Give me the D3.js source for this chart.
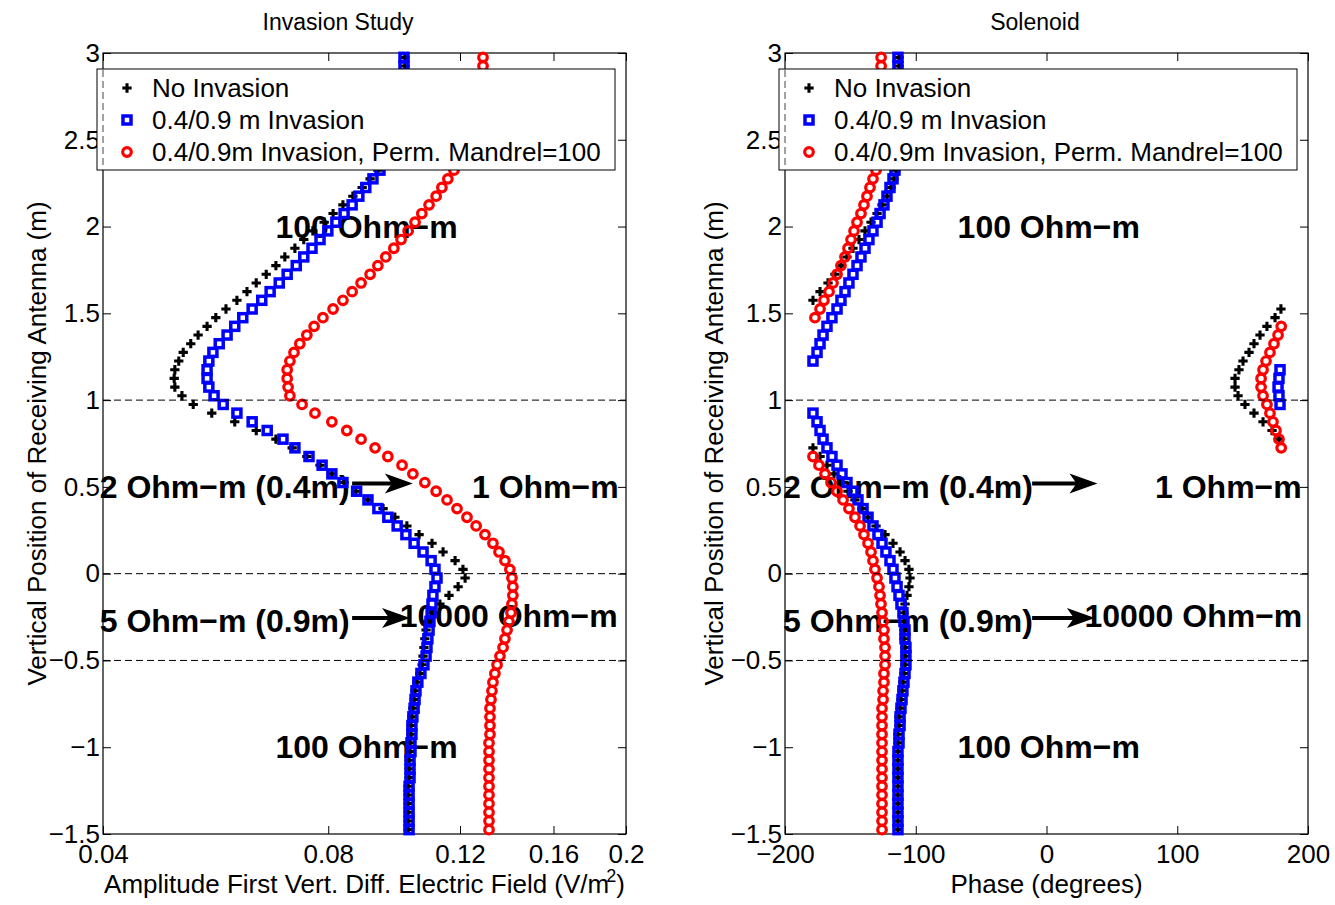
<!DOCTYPE html>
<html>
<head>
<meta charset="utf-8">
<script src="https://cdn.jsdelivr.net/npm/d3@7"></script>
<style>
  body { margin: 0; background: #fff; }
</style>
</head>
<body>
<svg id="chart" width="1335" height="905"></svg>
<script>
// receiver depth (m), same sampling for every curve
var depth = [
  -1.475,-1.425,-1.375,-1.325,-1.275,-1.225,-1.175,-1.125,-1.075,-1.025,
  -0.975,-0.925,-0.875,-0.825,-0.775,-0.725,-0.675,-0.625,-0.575,-0.525,
  -0.475,-0.425,-0.375,-0.325,-0.275,-0.225,-0.175,-0.125,-0.075,-0.025,
  0.025,0.075,0.125,0.175,0.225,0.275,0.325,0.375,0.425,0.475,
  0.525,0.575,0.625,0.675,0.725,0.775,0.825,0.875,0.925,0.975,
  1.025,1.075,1.125,1.175,1.225,1.275,1.325,1.375,1.425,1.475,
  1.525,1.575,1.625,1.675,1.725,1.775,1.825,1.875,1.925,1.975,
  2.025,2.075,2.125,2.175,2.225,2.275,2.325,2.375,2.425,2.475,
  2.525,2.575,2.625,2.675,2.725,2.775,2.825,2.875,2.925,2.975
];

// amplitude (V/m^2)
var ampNoInv = [
  0.1023,0.1023,0.1023,0.1023,0.1023,0.1023,0.1026,0.1026,0.1026,0.1029,
  0.1029,0.1032,0.1032,0.1035,0.1038,0.1042,0.1045,0.1051,0.1061,0.1068,
  0.1071,0.1074,0.1077,0.1081,0.1087,0.1104,0.1128,0.1160,0.1193,0.1219,
  0.1211,0.1182,0.1139,0.1101,0.1058,0.1019,0.0982,0.0947,0.0904,0.0871,
  0.0840,0.0809,0.0780,0.0749,0.0716,0.0681,0.0641,0.0600,0.0559,0.0528,
  0.0510,0.0499,0.0498,0.0499,0.0505,0.0512,0.0524,0.0536,0.0551,0.0566,
  0.0584,0.0604,0.0623,0.0641,0.0661,0.0681,0.0700,0.0722,0.0742,0.0763,
  0.0790,0.0812,0.0837,0.0863,0.0888,0.0910,0.0932,0.0953,0.0967,0.0982,
  0.0992,0.1001,0.1007,0.1010,0.1013,0.1013,0.1013,0.1013,0.1013,0.1013
];
var ampInv = [
  0.1026,0.1026,0.1026,0.1026,0.1026,0.1026,0.1029,0.1029,0.1029,0.1032,
  0.1032,0.1035,0.1035,0.1038,0.1042,0.1045,0.1048,0.1054,0.1064,0.1074,
  0.1081,0.1084,0.1087,0.1091,0.1094,0.1098,0.1101,0.1104,0.1111,0.1118,
  0.1111,0.1098,0.1071,0.1042,0.1016,0.0989,0.0961,0.0932,0.0904,0.0873,
  0.0837,0.0809,0.0785,0.0754,0.0722,0.0696,0.0663,0.0633,0.0604,0.0579,
  0.0563,0.0554,0.0551,0.0551,0.0554,0.0561,0.0572,0.0586,0.0600,0.0615,
  0.0633,0.0652,0.0669,0.0688,0.0705,0.0725,0.0742,0.0761,0.0780,0.0799,
  0.0819,0.0840,0.0861,0.0879,0.0898,0.0918,0.0938,0.0955,0.0970,0.0982,
  0.0992,0.0998,0.1004,0.1007,0.1007,0.1010,0.1010,0.1010,0.1010,0.1010
];
var ampMandrel = [
  0.1312,0.1312,0.1312,0.1312,0.1312,0.1312,0.1312,0.1312,0.1312,0.1312,
  0.1312,0.1316,0.1316,0.1316,0.1316,0.1320,0.1324,0.1328,0.1336,0.1345,
  0.1357,0.1370,0.1378,0.1387,0.1395,0.1404,0.1408,0.1412,0.1412,0.1408,
  0.1399,0.1378,0.1353,0.1328,0.1296,0.1261,0.1226,0.1189,0.1153,0.1115,
  0.1077,0.1038,0.1004,0.0961,0.0924,0.0885,0.0847,0.0809,0.0768,0.0738,
  0.0711,0.0707,0.0705,0.0705,0.0711,0.0720,0.0733,0.0749,0.0766,0.0787,
  0.0812,0.0837,0.0861,0.0885,0.0910,0.0932,0.0955,0.0979,0.1001,0.1023,
  0.1045,0.1067,0.1091,0.1115,0.1135,0.1156,0.1178,0.1196,0.1215,0.1230,
  0.1245,0.1257,0.1264,0.1272,0.1276,0.1280,0.1284,0.1284,0.1288,0.1288
];

// phase (degrees)
var phNoInv = [
  -113.6,-113.6,-113.6,-113.6,-113.6,-113.6,-113.6,-113.6,-113.6,-113.6,
  -113.6,-113.6,-112.8,-112.8,-112.0,-111.3,-110.5,-109.8,-109.0,-108.2,
  -108.2,-108.2,-109.0,-109.0,-109.0,-109.0,-108.2,-106.7,-105.2,-104.4,
  -105.2,-108.2,-112.0,-117.4,-123.5,-130.4,-136.5,-141.1,-146.5,-151.8,
  -157.2,-162.5,-167.9,-173.2,-178.6,177.8,172.5,165.6,158.7,151.8,
  146.5,144.2,144.2,147.2,150.3,154.9,158.7,163.3,168.6,174.8,
  179.3,-178.6,-173.2,-167.1,-161.8,-157.2,-152.6,-148.0,-143.4,-138.8,
  -134.2,-129.6,-125.8,-122.0,-118.9,-116.6,-115.1,-114.3,-113.6,-112.8,
  -112.8,-112.8,-112.8,-112.8,-112.8,-112.8,-112.8,-112.8,-112.8,-112.8
];
var phInv = [
  -113.6,-113.6,-113.6,-113.6,-113.6,-113.6,-113.6,-113.6,-113.6,-113.6,
  -112.8,-112.8,-112.0,-112.0,-111.3,-110.5,-109.8,-109.0,-108.2,-107.5,
  -107.5,-107.5,-108.2,-108.2,-109.0,-109.8,-111.3,-112.8,-114.3,-115.9,
  -117.4,-119.7,-122.8,-125.8,-128.9,-132.7,-136.5,-140.3,-144.2,-148.0,
  -152.6,-156.4,-160.2,-164.1,-167.9,-170.9,-173.2,-175.5,-178.6,178.6,
  177.8,177.1,177.8,178.6,-178.6,-175.5,-173.2,-170.9,-167.9,-164.1,
  -160.2,-157.2,-154.1,-151.1,-148.0,-144.9,-141.9,-138.8,-135.8,-132.7,
  -129.6,-127.3,-124.3,-122.0,-119.7,-117.4,-115.9,-115.1,-114.3,-113.6,
  -113.6,-113.6,-113.6,-113.6,-113.6,-113.6,-113.6,-113.6,-113.6,-113.6
];
var phMandrel = [
  -125.8,-125.8,-125.8,-125.8,-125.8,-125.8,-125.8,-125.8,-125.8,-125.8,
  -125.8,-125.8,-125.8,-125.8,-125.8,-125.0,-125.0,-124.3,-124.3,-123.5,
  -123.5,-123.5,-124.3,-124.3,-125.0,-125.8,-126.6,-127.3,-128.1,-129.6,
  -131.2,-132.7,-134.2,-136.5,-139.6,-142.6,-146.5,-151.1,-155.6,-160.2,
  -164.8,-169.4,-174.0,-178.6,179.5,177.8,175.5,173.2,170.9,168.6,
  165.6,164.1,164.1,165.6,167.9,170.9,174.0,177.1,179.5,-177.1,
  -173.2,-170.2,-166.3,-163.3,-160.2,-157.2,-154.1,-151.8,-149.5,-147.2,
  -144.9,-141.9,-139.6,-137.3,-135.0,-132.7,-130.4,-128.9,-128.1,-127.3,
  -126.5,-126.5,-126.5,-126.5,-126.5,-126.5,-126.5,-126.5,-126.5,-126.5
];

var seriesNames = ["No Invasion", "0.4/0.9 m Invasion", "0.4/0.9m Invasion, Perm. Mandrel=100"];
var depthTicks = [-1.5, -1, -0.5, 0, 0.5, 1, 1.5, 2, 2.5, 3];
var ampTicks = [0.04, 0.08, 0.12, 0.16, 0.2];
var phaseTicks = [-200, -100, 0, 100, 200];
var bedBoundaries = [1, 0, -0.5];

var FONT = '"Liberation Sans", Arial, Helvetica, sans-serif';
var svg = d3.select("#chart");
var fmt = d3.format("~g");

var y = d3.scaleLinear().domain([-1.5, 3]).range([834, 53]);
var xAmp = d3.scaleLog().domain([0.04, 0.2]).range([103, 626]);
var xPhase = d3.scaleLinear().domain([-200, 200]).range([785, 1308]);

var SQ = 8, SQW = 3.5, CR = 4.3, CRW = 3.2, PLUS = 48;

function drawPanel(opt) {
  var x = opt.x, xr = x.range(), yr = y.range();
  var g = svg.append("g");

  // box with inward ticks on all four sides
  g.append("g").attr("transform", "translate(0," + yr[0] + ")")
    .call(d3.axisBottom(x).tickValues(opt.xTicks).tickFormat(fmt).tickSizeInner(-8).tickSizeOuter(0).tickPadding(11));
  g.append("g").attr("transform", "translate(0," + yr[1] + ")")
    .call(d3.axisTop(x).tickValues(opt.xTicks).tickFormat(function() { return ""; }).tickSizeInner(-8).tickSizeOuter(0));
  g.append("g").attr("transform", "translate(" + xr[0] + ",0)")
    .call(d3.axisLeft(y).tickValues(depthTicks).tickFormat(fmt).tickSizeInner(-8).tickSizeOuter(0).tickPadding(3));
  g.append("g").attr("transform", "translate(" + xr[1] + ",0)")
    .call(d3.axisRight(y).tickValues(depthTicks).tickFormat(function() { return ""; }).tickSizeInner(-8).tickSizeOuter(0));
  g.selectAll(".domain").remove();
  g.selectAll(".tick line").attr("stroke", "#000");
  g.selectAll(".tick text").attr("font-family", FONT).attr("font-size", 26).attr("fill", "#000");
  g.append("rect")
    .attr("x", xr[0]).attr("y", yr[1])
    .attr("width", xr[1] - xr[0]).attr("height", yr[0] - yr[1])
    .attr("fill", "none").attr("stroke", "#000").attr("stroke-width", 1.2);

  // title and axis labels
  g.append("text").attr("x", opt.titleX).attr("y", 30)
    .attr("text-anchor", "middle").attr("font-family", FONT).attr("font-size", 23)
    .text(opt.title);
  var xl = g.append("text").attr("x", (xr[0] + xr[1]) / 2).attr("y", 893)
    .attr("text-anchor", "middle").attr("font-family", FONT).attr("font-size", 26);
  opt.xLabel(xl);
  g.append("text")
    .attr("transform", "translate(" + opt.yLabelX + "," + ((yr[0] + yr[1]) / 2) + ") rotate(-90)")
    .attr("text-anchor", "middle").attr("font-family", FONT).attr("font-size", 26)
    .text("Vertical Position of Receiving Antenna (m)");

  // formation annotations
  opt.notes.forEach(function(n) {
    g.append("text").attr("x", x(n.x)).attr("y", y(n.y)).attr("dy", "0.35em")
      .attr("font-family", FONT).attr("font-size", 32).attr("font-weight", "bold")
      .text(n.t);
  });
  opt.arrows.forEach(function(a) {
    var x1 = x(a.x1), x2 = x(a.x2), yy = y(a.y);
    g.append("line").attr("x1", x1).attr("x2", x2 - 20).attr("y1", yy).attr("y2", yy)
      .attr("stroke", "#000").attr("stroke-width", 4);
    g.append("path")
      .attr("d", "M" + x2 + "," + yy + "L" + (x2 - 28) + "," + (yy - 10) + "L" + (x2 - 21) + "," + yy +
                 "L" + (x2 - 28) + "," + (yy + 10) + "Z")
      .attr("fill", "#000");
  });

  // curves: plotted in order black, blue, red
  var pts = function(vals) { return depth.map(function(d, i) { return { d: d, v: vals[i] }; }); };
  g.append("g").selectAll("path").data(pts(opt.vals[0])).enter().append("path")
    .attr("d", d3.symbol().type(d3.symbolCross).size(PLUS))
    .attr("transform", function(p) { return "translate(" + x(p.v) + "," + y(p.d) + ")"; })
    .attr("fill", "#000");
  g.append("g").selectAll("rect").data(pts(opt.vals[1])).enter().append("rect")
    .attr("x", function(p) { return x(p.v) - SQ / 2; }).attr("y", function(p) { return y(p.d) - SQ / 2; })
    .attr("width", SQ).attr("height", SQ)
    .attr("fill", "none").attr("stroke", "#0000ff").attr("stroke-width", SQW);
  g.append("g").selectAll("circle").data(pts(opt.vals[2])).enter().append("circle")
    .attr("cx", function(p) { return x(p.v); }).attr("cy", function(p) { return y(p.d); })
    .attr("r", CR).attr("fill", "none").attr("stroke", "#ff0000").attr("stroke-width", CRW);

  // bed boundaries
  g.append("g").selectAll("line").data(bedBoundaries).enter().append("line")
    .attr("x1", xr[0]).attr("x2", xr[1])
    .attr("y1", function(b) { return y(b); }).attr("y2", function(b) { return y(b); })
    .attr("stroke", "#000").attr("stroke-width", 1).attr("stroke-dasharray", "7,4");

  // legend
  var lg = g.append("g");
  lg.append("rect").attr("x", xr[0] - 6).attr("y", 69).attr("width", 518).attr("height", 101)
    .attr("fill", "#fff").attr("stroke", "#000").attr("stroke-width", 1);
  lg.append("line").attr("x1", xr[0]).attr("x2", xr[0]).attr("y1", 70).attr("y2", 169)
    .attr("stroke", "#444").attr("stroke-width", 1).attr("stroke-dasharray", "7,4");
  var rowY = function(i) { return 88 + i * 32; };
  lg.append("path").attr("d", d3.symbol().type(d3.symbolCross).size(PLUS))
    .attr("transform", "translate(" + (xr[0] + 24) + "," + rowY(0) + ")").attr("fill", "#000");
  lg.append("rect").attr("x", xr[0] + 24 - SQ / 2).attr("y", rowY(1) - SQ / 2).attr("width", SQ).attr("height", SQ)
    .attr("fill", "none").attr("stroke", "#0000ff").attr("stroke-width", SQW);
  lg.append("circle").attr("cx", xr[0] + 24).attr("cy", rowY(2)).attr("r", CR)
    .attr("fill", "none").attr("stroke", "#ff0000").attr("stroke-width", CRW);
  lg.selectAll("text").data(seriesNames).enter().append("text")
    .attr("x", xr[0] + 49).attr("y", function(s, i) { return rowY(i); }).attr("dy", "0.35em")
    .attr("font-family", FONT).attr("font-size", 26)
    .text(function(s) { return s; });
}

drawPanel({
  x: xAmp, xTicks: ampTicks, vals: [ampNoInv, ampInv, ampMandrel],
  title: "Invasion Study", titleX: 338, yLabelX: 46,
  xLabel: function(t) {
    t.append("tspan").text("Amplitude First Vert. Diff. Electric Field (V/m");
    t.append("tspan").attr("dy", -11).attr("dx", -3).attr("font-size", 18).text("2");
    t.append("tspan").attr("dy", 11).text(")");
  },
  notes: [
    { t: "100 Ohm\u2212m", x: 0.068, y: 2 },
    { t: "100 Ohm\u2212m", x: 0.068, y: -1 },
    { t: "2 Ohm\u2212m (0.4m)", x: 0.0396, y: 0.5 },
    { t: "1 Ohm\u2212m", x: 0.1245, y: 0.5 },
    { t: "5 Ohm\u2212m (0.9m)", x: 0.0396, y: -0.27 },
    { t: "10000 Ohm\u2212m", x: 0.0997, y: -0.24 }
  ],
  arrows: [
    { x1: 0.0861, x2: 0.1038, y: 0.52 },
    { x1: 0.0861, x2: 0.1029, y: -0.255 }
  ]
});

drawPanel({
  x: xPhase, xTicks: phaseTicks, vals: [phNoInv, phInv, phMandrel],
  title: "Solenoid", titleX: 1035, yLabelX: 723,
  xLabel: function(t) { t.text("Phase (degrees)"); },
  notes: [
    { t: "100 Ohm\u2212m", x: -68, y: 2 },
    { t: "100 Ohm\u2212m", x: -68, y: -1 },
    { t: "2 Ohm\u2212m (0.4m)", x: -201.5, y: 0.5 },
    { t: "1 Ohm\u2212m", x: 83, y: 0.5 },
    { t: "5 Ohm\u2212m (0.9m)", x: -201.5, y: -0.27 },
    { t: "10000 Ohm\u2212m", x: 29, y: -0.24 }
  ],
  arrows: [
    { x1: -11, x2: 39, y: 0.52 },
    { x1: -11, x2: 37, y: -0.255 }
  ]
});
</script>
</body>
</html>
